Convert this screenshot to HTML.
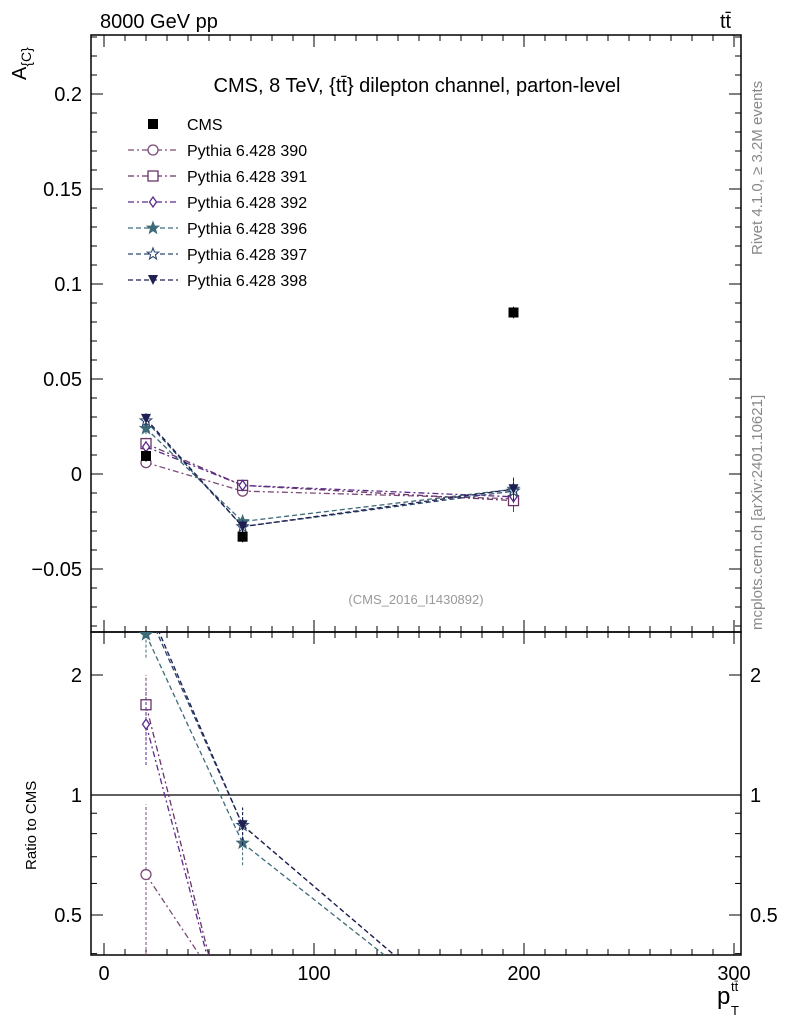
<!DOCTYPE html>
<html><head><meta charset="utf-8"><style>
html,body{margin:0;background:#fff;overflow:hidden;width:786px;height:1024px;}
svg text{font-family:"Liberation Sans",sans-serif;}
</style></head><body>
<svg id="c" width="786" height="1024" viewBox="0 0 786 1024" xmlns="http://www.w3.org/2000/svg" style="display:block;overflow:hidden">
<text x="100" y="28" font-size="20">8000 GeV pp</text>
<text x="720" y="28" font-size="20">tt̄</text>
<text transform="translate(762,255) rotate(-90)" font-size="15" fill="#888">Rivet 4.1.0, ≥ 3.2M events</text>
<text transform="translate(762,630) rotate(-90)" font-size="15" fill="#888">mcplots.cern.ch [arXiv:2401.10621]</text>
<text x="417" y="92" font-size="20" text-anchor="middle">CMS, 8 TeV, {tt̄} dilepton channel, parton-level</text>
<text x="416" y="604" font-size="13" fill="#999" text-anchor="middle">(CMS_2016_I1430892)</text>
<text transform="translate(26,80) rotate(-90)" font-size="20">A<tspan font-size="14" dy="5">{C}</tspan></text>
<text transform="translate(36,870) rotate(-90)" font-size="15">Ratio to CMS</text>
<g>
<text x="717" y="1004" font-size="24">p</text>
<text x="731" y="991" font-size="13">tt̄</text>
<text x="731" y="1015" font-size="13">T</text>
</g>
<g id="g"></g>
</svg>
<script>
const xCenters=[20,66,195];
const cmsVals=[0.0095,-0.033,0.085];
const cmsErr=[0.003,0.003,0.003];
const seriesNames=["Pythia 6.428 390","Pythia 6.428 391","Pythia 6.428 392","Pythia 6.428 396","Pythia 6.428 397","Pythia 6.428 398"];
const s390=[0.006,-0.009,-0.013];
const s391=[0.016,-0.006,-0.014];
const s392=[0.0143,-0.006,-0.012];
const s396=[0.024,-0.025,-0.008];
const s397=[0.028,-0.0277,-0.009];
const s398=[0.029,-0.0277,-0.008];
const seriesErr=[0.003,0.003,0.006];
const xTicks=[0,100,200,300];
const yTicks=[-0.05,0,0.05,0.1,0.15,0.2];
const yTickLabels=["\u22120.05","0","0.05","0.1","0.15","0.2"];
const rTicks=[0.5,1,2];
const rTickLabels=["0.5","1","2"];
const seriesVals=[s390,s391,s392,s396,s397,s398];
const colors=["#7d4a78","#6a3468","#5a2b8c","#3e6b78","#2b4a70","#1f1f52"];
const dashes=["6,3,2,3","6,3,2,3","6,3,2,3","5,3","5,3","5,3"];
const markers=["circle","square","diamond","star","starOpen","triDown"];
const L=91,R=741,T=35,M=632,B=955;
const X=v=>104+v*2.1;
const Y=v=>474-v*1900;
const YR=r=>795-Math.log2(r)*120;
const cl=(y,a,b)=>Math.max(a,Math.min(b,y));
const NS="http://www.w3.org/2000/svg";
const g=document.getElementById('g');
function el(t,a,p){const e=document.createElementNS(NS,t);for(const k in a)e.setAttribute(k,a[k]);(p||g).appendChild(e);return e;}
function clipSeg(x1,y1,x2,y2,lo,hi){
 if((y1<lo&&y2<lo)||(y1>hi&&y2>hi))return null;
 const f=y=>x1+(x2-x1)*(y-y1)/(y2-y1);
 if(y1<lo){x1=f(lo);y1=lo;} if(y1>hi){x1=f(hi);y1=hi;}
 if(y2<lo){x2=f(lo);y2=lo;} if(y2>hi){x2=f(hi);y2=hi;}
 return [x1,y1,x2,y2];}
const defs=el('defs',{});
const c1=el('clipPath',{id:'cm'},defs);el('rect',{x:L,y:T,width:R-L,height:M-T},c1);
const c2=el('clipPath',{id:'cr'},defs);el('rect',{x:L,y:M,width:R-L,height:B-M},c2);
let f=el('rect',{x:L,y:T,width:R-L,height:M-T,fill:'none',stroke:'#000','stroke-width':1.5});

f=el('rect',{x:L,y:M,width:R-L,height:B-M,fill:'none',stroke:'#000','stroke-width':1.5});

for(let v=0;v<=300;v+=10){const maj=v%100==0;const len=maj?12:6;
 for(const [y0,d] of [[B,-1],[M,-1],[M,1],[T,1]]){el('line',{x1:X(v),x2:X(v),y1:y0,y2:y0+d*len,stroke:'#000'});}
}
xTicks.forEach(v=>{const t=el('text',{x:X(v),y:980,'font-size':20,'text-anchor':'middle'});t.textContent=v;
});
for(let i=-8;i<=23;i++){const v=i*0.01;const y=Y(v);if(y<T||y>M)continue;const maj=i%5==0;const len=maj?12:6;
 el('line',{x1:L,x2:L+len,y1:y,y2:y,stroke:'#000'});el('line',{x1:R,x2:R-len,y1:y,y2:y,stroke:'#000'});}
yTicks.forEach((v,i)=>{const t=el('text',{x:82,y:Y(v)+7,'font-size':20,'text-anchor':'end'});t.textContent=yTickLabels[i];
});
[0.4,0.5,0.6,0.7,0.8,0.9,1,2].forEach(r=>{const y=YR(r);if(y<M||y>B)return;const maj=rTicks.includes(r);const len=maj?12:6;
 el('line',{x1:L,x2:L+len,y1:y,y2:y,stroke:'#000'});el('line',{x1:R,x2:R-len,y1:y,y2:y,stroke:'#000'});});
rTicks.forEach((r,i)=>{let t=el('text',{x:82,y:YR(r)+7,'font-size':20,'text-anchor':'end'});t.textContent=rTickLabels[i];

t=el('text',{x:750,y:YR(r)+7,'font-size':20});t.textContent=rTickLabels[i];
});
let ref=el('line',{x1:L,x2:R,y1:YR(1),y2:YR(1),stroke:'#000','stroke-width':1.2});

function marker(kind,x,y,c,parent,name){let m;const s=5;
 if(kind=='circle')m=el('circle',{cx:x,cy:y,r:s,fill:'#fff',stroke:c,'stroke-width':1.3},parent);
 else if(kind=='square')m=el('rect',{x:x-s,y:y-s,width:2*s,height:2*s,fill:'#fff',stroke:c,'stroke-width':1.3},parent);
 else if(kind=='diamond')m=el('polygon',{points:`${x},${y-5} ${x+3.5},${y} ${x},${y+5} ${x-3.5},${y}`,fill:'#fff',stroke:c,'stroke-width':1.3},parent);
 else if(kind=='triDown')m=el('polygon',{points:`${x-5},${y-5} ${x+5},${y-5} ${x},${y+5}`,fill:c},parent);
 else if(kind=='cms')m=el('rect',{x:x-5,y:y-5,width:10,height:10,fill:'#000'},parent);
 else{let p=[];for(let i=0;i<10;i++){const r=i%2?2.5:6;const a=-Math.PI/2+i*Math.PI/5;p.push((x+r*Math.cos(a)).toFixed(1)+','+(y+r*Math.sin(a)).toFixed(1));}
  m=el('polygon',{points:p.join(' '),fill:kind=='star'?c:'#fff',stroke:c,'stroke-width':1.1},parent);}
 return m;}
const gm=el('g',{'clip-path':'url(#cm)'});
const gr=el('g',{'clip-path':'url(#cr)'});
seriesVals.forEach((vals,si)=>{const c=colors[si];
 const pl=el('polyline',{points:vals.map((v,i)=>X(xCenters[i])+','+Y(v)).join(' '),fill:'none',stroke:c,'stroke-width':1.3,'stroke-dasharray':dashes[si]},gm);
 
 const ratios=vals.map((v,i)=>v/cmsVals[i]);
 const rp=ratios.map((r,i)=>[X(xCenters[i]),YR(r>0?r:0.22)]);
 let d='';
 for(let i=0;i<rp.length-1;i++){const s=clipSeg(rp[i][0],rp[i][1],rp[i+1][0],rp[i+1][1],M-10,B);
  if(s)d+=`M${s[0].toFixed(1)},${s[1].toFixed(1)}L${s[2].toFixed(1)},${s[3].toFixed(1)}`;}
 const rl=el('path',{d:d,fill:'none',stroke:c,'stroke-width':1.3,'stroke-dasharray':dashes[si]},gr);
 
 vals.forEach((v,i)=>{const x=X(xCenters[i]);
  el('line',{x1:x,x2:x,y1:Y(v-seriesErr[i]),y2:Y(v+seriesErr[i]),stroke:c,'stroke-dasharray':'3,2'},gm);
  marker(markers[si],x,Y(v),c,gm,'series-point-'+si);
  const r=ratios[i];if(r>0){const e=Math.abs(seriesErr[i]/cmsVals[i]);const yr=YR(r);
   el('line',{x1:x,x2:x,y1:cl(YR(Math.max(r-e,0.01)),M-20,B),y2:cl(YR(r+e),M-20,B),stroke:c,'stroke-dasharray':'3,2'},gr);
   if(yr>M-10&&yr<B+10)marker(markers[si],x,yr,c,gr,'ratio-point-'+si);}
 });
});
cmsVals.forEach((v,i)=>{const x=X(xCenters[i]);el('line',{x1:x,x2:x,y1:Y(v-cmsErr[i]),y2:Y(v+cmsErr[i]),stroke:'#000'},gm);
 marker('cms',x,Y(v),'#000',gm,'cms-point');});
let lg=el('g',{});
marker('cms',153,124,'#000',lg,'legend-marker-cms');
let t=el('text',{x:187,y:130,'font-size':16},lg);t.textContent="CMS";
seriesNames.forEach((n,i)=>{const y=150+i*26;
 el('line',{x1:128,x2:178,y1:y,y2:y,stroke:colors[i],'stroke-width':1.3,'stroke-dasharray':dashes[i]},lg);
 marker(markers[i],153,y,colors[i],lg,'legend-marker');
 const tt=el('text',{x:187,y:y+6,'font-size':16},lg);tt.textContent=n;
 });
</script>
</body></html>
